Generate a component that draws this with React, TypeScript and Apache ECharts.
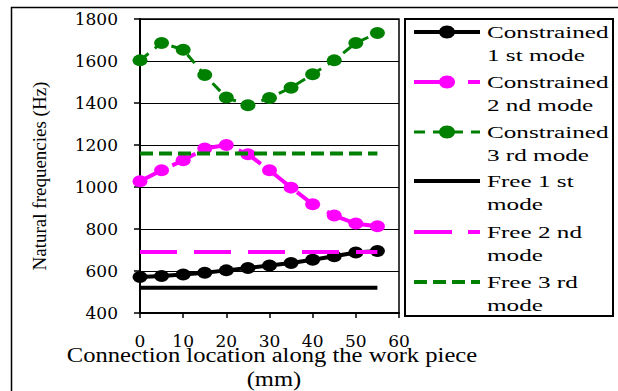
import React, { useEffect, useRef } from "react";
import * as echarts from "echarts";

// ---- data ----
const locations = [0, 5, 10, 15, 20, 25, 30, 35, 40, 45, 50, 55];
const constrained1 = [571, 576, 583, 592, 603, 614, 626, 638, 654, 670, 688, 695];
const constrained2 = [1027, 1080, 1127, 1183, 1200, 1156, 1080, 997, 918, 864, 826, 813];
const constrained3 = [1603, 1686, 1654, 1533, 1426, 1389, 1424, 1473, 1537, 1603, 1686, 1733];
const freeRange = [0, 55];
const free1 = [520, 520];
const free2 = [690, 690];
const free3 = [1160, 1160];
const yTicks = [400, 600, 800, 1000, 1200, 1400, 1600, 1800];
const xTicks = [0, 10, 20, 30, 40, 50, 60];
const seriesNames = [
  "Constrained\n1 st mode",
  "Constrained\n2 nd mode",
  "Constrained\n3 rd mode",
  "Free 1 st\nmode",
  "Free 2 nd\nmode",
  "Free 3 rd\nmode",
];
const xTitle = "Connection location along the work piece";
const xUnit = "(mm)";
const yTitle = "Natural frequencies (Hz)";

const BLACK = "#000000";
const MAGENTA = "#FF00FF";
const GREEN = "#008000";
const ELLIPSE = "path://M0 50A50 50 0 1 1 100 50A50 50 0 1 1 0 50Z";
const SERIF = "'Liberation Serif', 'Times New Roman', serif";
const WIDE_SERIF = "'DejaVu Serif', serif";

const pairs = (xs: number[], ys: number[]) => xs.map((x, i) => [x, ys[i]]);

export default function App() {
  const ref = useRef<HTMLDivElement>(null);
  useEffect(() => {
    if (!ref.current) return;
    const chart = echarts.init(ref.current, undefined, { renderer: "svg" });

    const styles = [
      { color: BLACK, width: 4, dash: "solid" as any, marker: true },
      { color: MAGENTA, width: 4, dash: [26, 10], marker: true },
      { color: GREEN, width: 3, dash: [11, 8], marker: true },
      { color: BLACK, width: 4, dash: "solid" as any, marker: false },
      { color: MAGENTA, width: 4, dash: [37, 17], marker: false },
      { color: GREEN, width: 4, dash: [13, 6], marker: false },
    ];
    const dataSets = [
      pairs(locations, constrained1),
      pairs(locations, constrained2),
      pairs(locations, constrained3),
      pairs(freeRange, free1),
      pairs(freeRange, free2),
      pairs(freeRange, free3),
    ];
    const legendDash = ["solid", [26, 28], [11, 8], "solid", [38, 16], [13, 6]];

    const series = dataSets.map((d, i) => ({
      name: seriesNames[i],
      type: "line",
      data: d,
      symbol: styles[i].marker ? ELLIPSE : "none",
      symbolSize: [15, 12],
      showSymbol: styles[i].marker,
      itemStyle: { color: styles[i].color },
      lineStyle: { color: styles[i].color, width: styles[i].width, type: styles[i].dash },
      z: i < 3 ? 2 : 3,
    }));

    const iconY = [32, 82, 132, 181, 232, 282];
    const legendEls: any[] = [];
    iconY.forEach((y, i) => {
      const dash = legendDash[i];
      legendEls.push({
        type: "line",
        shape: { x1: 414, y1: y, x2: 480, y2: y },
        style: {
          stroke: styles[i].color,
          lineWidth: styles[i].width,
          lineDash: dash === "solid" ? null : dash,
        },
      });
      if (styles[i].marker) {
        legendEls.push({
          type: "ellipse",
          shape: { cx: 447, cy: y, rx: 8, ry: 6.5 },
          style: { fill: styles[i].color },
        });
      }
      legendEls.push({
        type: "text",
        x: 487,
        y: y - 11.75,
        scaleX: 1.48,
        style: {
          text: seriesNames[i],
          fontFamily: SERIF,
          fontSize: 17,
          lineHeight: 23.5,
          fill: BLACK,
          textAlign: "left",
          verticalAlign: "top",
        },
      });
    });

    chart.setOption({
      animation: false,
      backgroundColor: "#ffffff",
      grid: {
        left: 140,
        top: 19,
        width: 259,
        height: 294,
        show: true,
        borderColor: BLACK,
        borderWidth: 1.5,
        backgroundColor: "transparent",
      },
      xAxis: {
        type: "value",
        min: xTicks[0],
        max: xTicks[xTicks.length - 1],
        interval: 10,
        axisLine: { show: true, lineStyle: { color: BLACK, width: 2 } },
        axisTick: { show: true, length: 5, lineStyle: { color: BLACK, width: 1.5 } },
        splitLine: { show: false },
        axisLabel: {
          color: BLACK,
          fontFamily: WIDE_SERIF,
          fontSize: 17,
          margin: 19,
          formatter: (v: number) => String(v),
        },
      },
      yAxis: {
        type: "value",
        min: yTicks[0],
        max: yTicks[yTicks.length - 1],
        interval: 200,
        axisLine: { show: true, lineStyle: { color: BLACK, width: 2 } },
        axisTick: { show: true, length: 6, lineStyle: { color: BLACK, width: 1.5 } },
        splitLine: { show: true, lineStyle: { color: BLACK, width: 1.2 } },
        axisLabel: {
          color: BLACK,
          fontFamily: WIDE_SERIF,
          fontSize: 17,
          margin: 22,
          formatter: (v: number) => String(v),
        },
      },
      series,
      graphic: [
        {
          type: "rect",
          shape: { x: 11.5, y: 7.5, width: 700, height: 500 },
          style: { fill: "none", stroke: BLACK, lineWidth: 1.5 },
          z: 0,
        },
        {
          type: "rect",
          shape: { x: 405, y: 19, width: 208, height: 297 },
          style: { fill: "#ffffff", stroke: BLACK, lineWidth: 2 },
        },
        ...legendEls,
        {
          type: "text",
          x: 272,
          y: 355,
          scaleX: 1.23,
          style: {
            text: xTitle,
            fontFamily: SERIF,
            fontSize: 20,
            fill: BLACK,
            textAlign: "center",
            verticalAlign: "middle",
          },
        },
        {
          type: "text",
          x: 274,
          y: 379,
          scaleX: 1.23,
          style: {
            text: xUnit,
            fontFamily: SERIF,
            fontSize: 20,
            fill: BLACK,
            textAlign: "center",
            verticalAlign: "middle",
          },
        },
        {
          type: "text",
          x: 39,
          y: 176,
          rotation: Math.PI / 2,
          style: {
            text: yTitle,
            fontFamily: SERIF,
            fontSize: 19,
            fill: BLACK,
            textAlign: "center",
            verticalAlign: "middle",
          },
        },
      ],
    });
    return () => chart.dispose();
  }, []);
  return (
    <div
      ref={ref}
      style={{ position: "fixed", left: 0, top: 0, width: 618, height: 391, background: "#fff" }}
    />
  );
}
